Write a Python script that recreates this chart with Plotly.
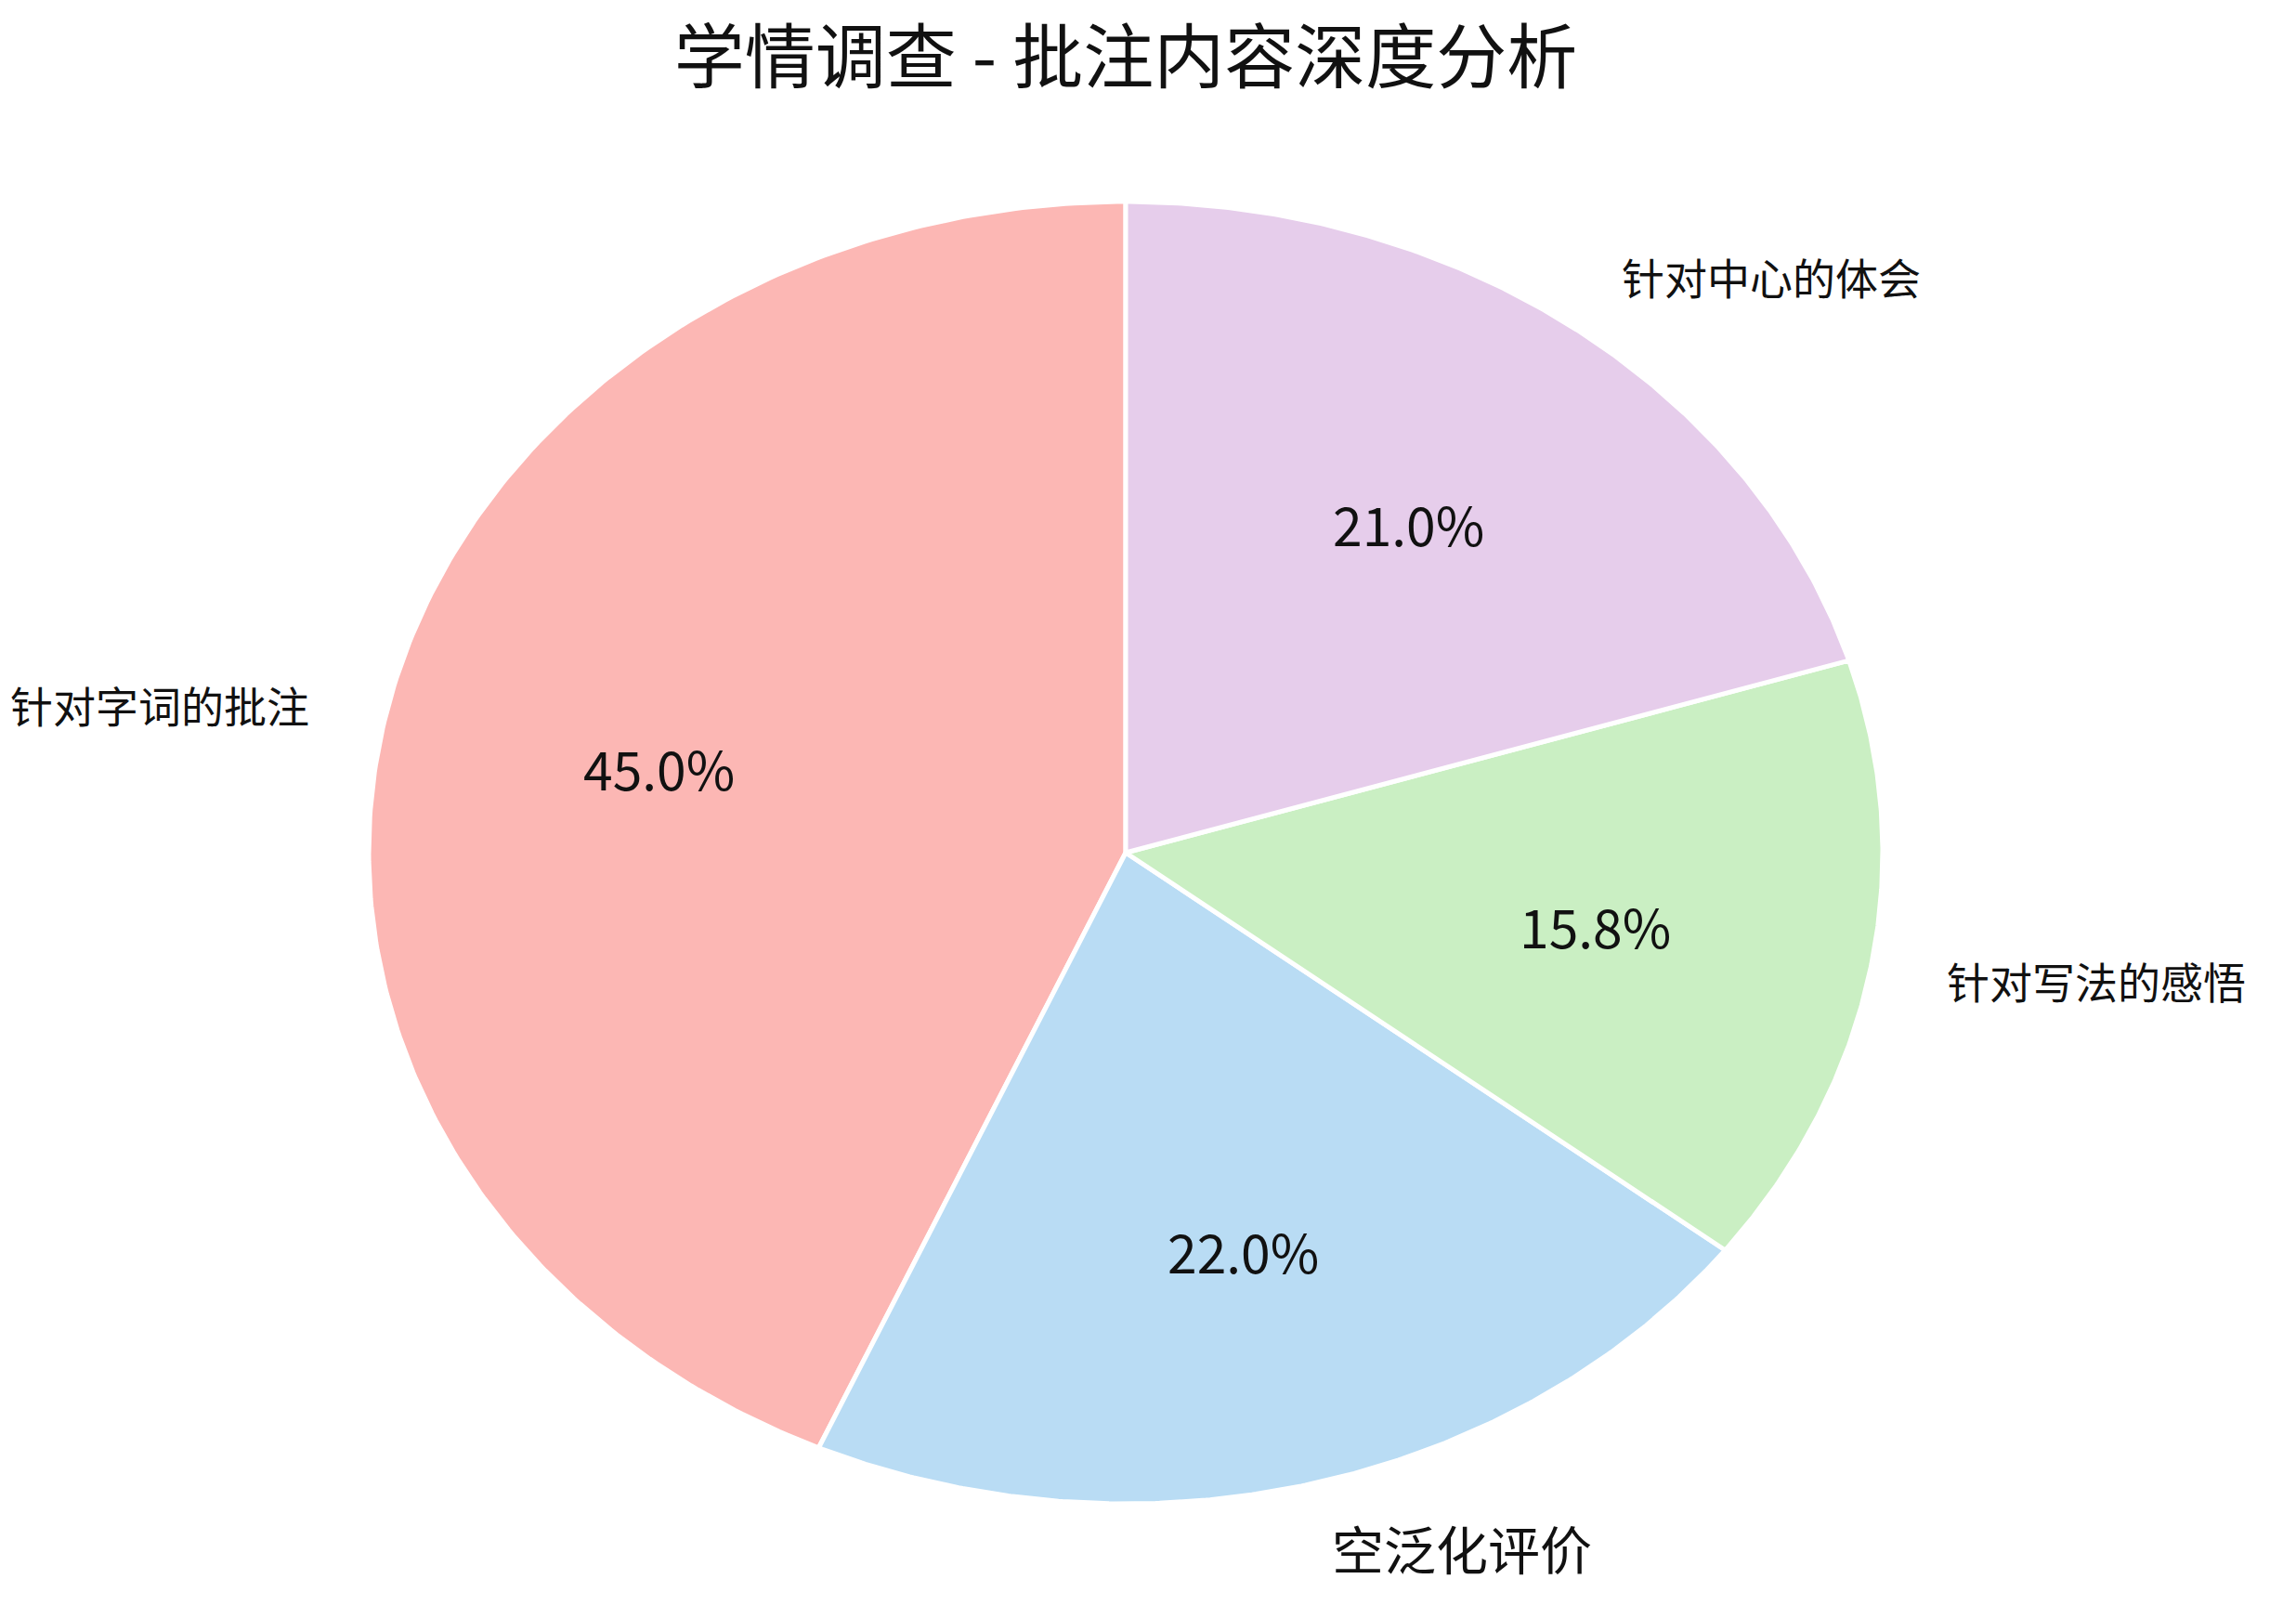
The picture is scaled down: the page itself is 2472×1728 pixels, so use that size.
import numpy as np
import plotly.graph_objects as go

# data
categories = ["针对字词的批注", "空泛化评价", "针对写法的感悟", "针对中心的体会"]
percentages = [45.0, 22.0, 15.8, 21.0]

# styling
colors = ["#FCB7B4", "#B9DCF4", "#CAEFC3", "#E6CDEB"]
label_sizes = [46, 56, 46, 46]
FONT = "Noto Sans CJK SC"

W, H = 2472, 1728
CX, CY = 1212, 918      # pie centre (px)
RX, RY = 815, 701       # semi axes (px) -> elliptical pie like the original

values = np.array(percentages)
fracs = values / values.sum()
# start at 12 o'clock, go counter-clockwise
edges = 90 + 360 * np.concatenate([[0], np.cumsum(fracs)])

fig = go.Figure()

for i, name in enumerate(categories):
    t = np.radians(np.linspace(edges[i], edges[i + 1], 240))
    xs = np.concatenate([[0], np.cos(t), [0]])
    ys = np.concatenate([[0], np.sin(t), [0]])
    fig.add_trace(go.Scatter(
        x=xs, y=ys, mode="lines", fill="toself",
        fillcolor=colors[i], line=dict(color="white", width=5),
        name=name, hoverinfo="text", hoveron="fills",
        text=f"{name}: {percentages[i]:.1f}%",
    ))

# labels outside, percentages inside (matplotlib style)
mids = np.radians((edges[:-1] + edges[1:]) / 2)
for i, name in enumerate(categories):
    cx, sy = np.cos(mids[i]), np.sin(mids[i])
    fig.add_annotation(
        x=1.1 * cx, y=1.1 * sy, xref="x", yref="y", text=name,
        showarrow=False, xanchor="right" if cx < 0 else "left", yanchor="middle",
        font=dict(family=FONT, size=label_sizes[i], color="#111111"),
    )
    fig.add_annotation(
        x=0.63 * cx, y=0.63 * sy, xref="x", yref="y",
        text=f"{percentages[i]:.1f}%", showarrow=False,
        xanchor="center", yanchor="middle",
        font=dict(family=FONT, size=57, color="#111111"),
    )

fig.update_layout(
    width=W, height=H,
    margin=dict(l=0, r=0, t=0, b=0),
    paper_bgcolor="white", plot_bgcolor="white",
    showlegend=False,
    title=dict(
        text="学情调查 - 批注内容深度分析",
        x=CX / W, y=1 - 62 / H, xanchor="center", yanchor="middle",
        font=dict(family=FONT, size=76, color="#111111"),
    ),
    xaxis=dict(range=[-CX / RX, (W - CX) / RX], visible=False, fixedrange=True),
    yaxis=dict(range=[-(H - CY) / RY, CY / RY], visible=False, fixedrange=True),
)

fig.write_html(
    "out.html",
    config={"displayModeBar": False},
    post_script="document.body.style.margin='0';",
)
